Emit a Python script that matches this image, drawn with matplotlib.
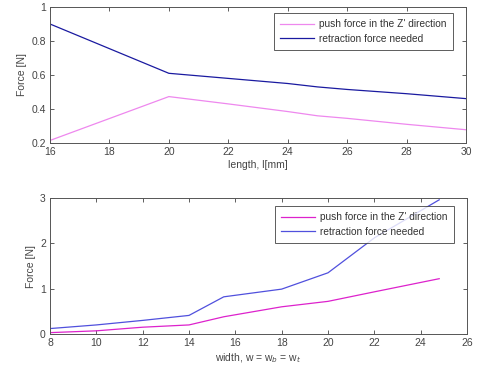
import matplotlib
matplotlib.use("Agg")
import matplotlib.pyplot as plt

plt.rcParams['font.family'] = ['Liberation Sans', 'DejaVu Sans']

# Top panel data
length_mm = [16, 20, 22, 24, 25, 26, 28, 30]
push_len = [0.215, 0.473, 0.43, 0.385, 0.36, 0.345, 0.31, 0.278]
retr_len = [0.90, 0.61, 0.58, 0.55, 0.53, 0.515, 0.49, 0.461]

# Bottom panel data
width_mm = [8, 10, 12, 14, 15.5, 18, 20, 22, 24.8]
push_w = [0.03, 0.07, 0.15, 0.20, 0.38, 0.60, 0.72, 0.93, 1.22]
retr_w = [0.12, 0.20, 0.30, 0.41, 0.82, 0.99, 1.35, 2.12, 2.96]

legend_labels = ["push force in the Z' direction", "retraction force needed"]

fig = plt.figure(figsize=(4.79, 3.8), dpi=100)
W, H = 479, 380
ax1 = fig.add_axes([50 / W, 1 - 143 / H, 416 / W, 136 / H])
ax2 = fig.add_axes([50 / W, 1 - 334 / H, 417 / W, 136 / H])

ax1.plot(length_mm, push_len, color='#ee88ee', lw=0.9, label=legend_labels[0])
ax1.plot(length_mm, retr_len, color='#1a1aa0', lw=0.9, label=legend_labels[1])
ax1.set_xlim(16, 30)
ax1.set_ylim(0.2, 1)
ax1.set_xticks([16, 18, 20, 22, 24, 26, 28, 30])
ax1.set_yticks([0.2, 0.4, 0.6, 0.8, 1])
ax1.set_yticklabels(['0.2', '0.4', '0.6', '0.8', '1'])
ax1.set_xlabel('length, l[mm]', fontsize=7.5, color='#444444', labelpad=2)
ax1.set_ylabel('Force [N]', fontsize=7.5, color='#444444', labelpad=3)

ax2.plot(width_mm, push_w, color='#dd22cc', lw=0.9, label=legend_labels[0])
ax2.plot(width_mm, retr_w, color='#5050dd', lw=0.9, label=legend_labels[1])
ax2.set_xlim(8, 26)
ax2.set_ylim(0, 3)
ax2.set_xticks(list(range(8, 27, 2)))
ax2.set_yticks([0, 1, 2, 3])
ax2.set_xlabel('width, w = w$_b$ = w$_t$', fontsize=7.5, color='#444444', labelpad=2)
ax2.set_ylabel('Force [N]', fontsize=7.5, color='#444444', labelpad=3)

legend_anchor = {ax1: (453 / W, 1 - 13 / H), ax2: (454 / W, 1 - 206 / H)}

for ax in (ax1, ax2):
    ax.tick_params(direction='in', top=True, right=True, labelsize=7.5,
                   length=3, width=0.6, colors='#444444', pad=3)
    for s in ax.spines.values():
        s.set_linewidth(0.7)
        s.set_color('#555555')
    leg = ax.legend(loc='upper right', bbox_to_anchor=legend_anchor[ax],
                    bbox_transform=fig.transFigure, fontsize=7.3, frameon=True,
                    fancybox=False, edgecolor='#333333', borderpad=0.6,
                    handlelength=3.4, handletextpad=0.5, labelspacing=0.45,
                    borderaxespad=0)
    leg.get_frame().set_linewidth(0.7)
    for t in leg.get_texts():
        t.set_color('#333333')

fig.savefig('out.png', dpi=100)
